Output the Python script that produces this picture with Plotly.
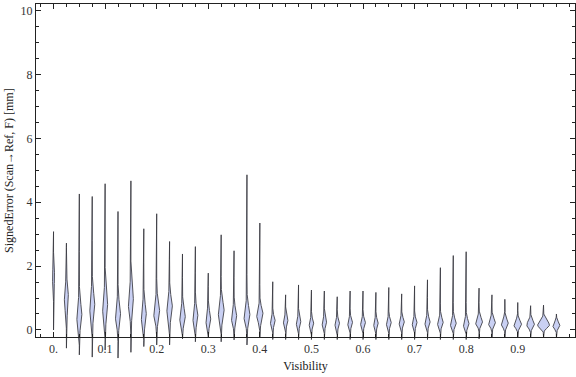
import numpy as np
import plotly.graph_objects as go

# ---- data ----
visibility = [0.000, 0.025, 0.050, 0.075, 0.100, 0.125, 0.150, 0.175, 0.200, 0.225,
              0.250, 0.275, 0.300, 0.325, 0.350, 0.375, 0.400, 0.425, 0.450, 0.475,
              0.500, 0.525, 0.550, 0.575, 0.600, 0.625, 0.650, 0.675, 0.700, 0.725,
              0.750, 0.775, 0.800, 0.825, 0.850, 0.875, 0.900, 0.925, 0.950, 0.975]
err_max = [3.08, 2.72, 4.26, 4.18, 4.58, 3.71, 4.67, 3.17, 3.64, 2.77,
           2.38, 2.61, 1.78, 2.98, 2.48, 4.86, 3.35, 1.51, 1.10, 1.41,
           1.25, 1.22, 1.04, 1.22, 1.22, 1.18, 1.33, 1.13, 1.38, 1.57,
           1.95, 2.33, 2.45, 1.31, 1.10, 0.96, 0.86, 0.76, 0.78, 0.50]
err_min = [0.00, -0.57, -0.78, -0.85, -0.63, -0.88, -0.70, -0.52, -0.47, -0.47,
           -0.28, -0.37, -0.22, -0.37, -0.31, -0.47, -0.22, -0.30, -0.30, -0.30,
           -0.30, -0.30, -0.30, -0.30, -0.30, -0.30, -0.30, -0.30, -0.30, -0.30,
           -0.30, -0.30, -0.30, -0.28, -0.25, -0.25, -0.25, -0.25, -0.25, -0.25]
err_mode = [1.65, 0.94, 0.42, 0.73, 0.70, 0.42, 0.84, 0.42, 0.52, 0.68,
            0.38, 0.38, 0.30, 0.57, 0.38, 0.42, 0.47, 0.26, 0.26, 0.22,
            0.18, 0.20, 0.18, 0.20, 0.20, 0.18, 0.20, 0.22, 0.20, 0.22,
            0.20, 0.18, 0.16, 0.22, 0.20, 0.18, 0.15, 0.15, 0.15, 0.12]
spread_low = [0.22, 0.35, 0.28, 0.33, 0.33, 0.28, 0.35, 0.25, 0.25, 0.28,
              0.20, 0.20, 0.17, 0.25, 0.20, 0.22, 0.20, 0.12, 0.11, 0.11,
              0.10, 0.10, 0.10, 0.10, 0.10, 0.10, 0.10, 0.10, 0.10, 0.10,
              0.10, 0.10, 0.10, 0.10, 0.10, 0.10, 0.09, 0.09, 0.09, 0.08]
spread_high = [0.25, 0.40, 0.38, 0.40, 0.40, 0.38, 0.42, 0.35, 0.35, 0.32,
               0.28, 0.28, 0.25, 0.30, 0.26, 0.30, 0.22, 0.15, 0.14, 0.14,
               0.14, 0.14, 0.14, 0.14, 0.14, 0.14, 0.14, 0.14, 0.14, 0.15,
               0.16, 0.16, 0.16, 0.16, 0.15, 0.15, 0.14, 0.14, 0.14, 0.12]
peak_half_width = [0.0022, 0.0040, 0.0050, 0.0050, 0.0050, 0.0050, 0.0050, 0.0050, 0.0058, 0.0055,
                   0.0055, 0.0050, 0.0048, 0.0058, 0.0052, 0.0058, 0.0062, 0.0048, 0.0045, 0.0045,
                   0.0045, 0.0045, 0.0045, 0.0048, 0.0048, 0.0045, 0.0048, 0.0052, 0.0048, 0.0052,
                   0.0056, 0.0058, 0.0056, 0.0068, 0.0068, 0.0068, 0.0075, 0.0075, 0.0115, 0.0068]

x_tick_vals = [0.0, 0.1, 0.2, 0.3, 0.4, 0.5, 0.6, 0.7, 0.8, 0.9]
x_tick_text = ["0.", "0.1", "0.2", "0.3", "0.4", "0.5", "0.6", "0.7", "0.8", "0.9"]
y_tick_vals = [0, 2, 4, 6, 8, 10]
y_tick_text = ["0", "2", "4", "6", "8", "10"]

# ---- geometry ----
W, H = 576, 377
M_L, M_R, M_T, M_B = 36, 1, 4, 15
X_RANGE = [-0.034, 1.011]
Y_FRAME = [-0.23, 10.21]
frame_bottom_px = 337.3
plot_h = H - M_T - M_B
frame_h = frame_bottom_px - M_T
px_per_unit = frame_h / (Y_FRAME[1] - Y_FRAME[0])
y_data_lo = Y_FRAME[1] - plot_h / px_per_unit
frame_domain_lo = (H - M_B - frame_bottom_px) / plot_h

FILL = "#c9d0f3"
EDGE = "rgba(55,55,62,0.85)"
FONT = "Liberation Serif, Times New Roman, serif"

fig = go.Figure()
for xv, lo, hi, m, sl, sh, wd in zip(visibility, err_min, err_max, err_mode,
                                      spread_low, spread_high, peak_half_width):
    ys = np.linspace(lo, hi, 400)
    s = np.where(ys < m, sl, sh)
    w = wd * np.exp(-0.5 * ((ys - m) / s) ** 2)
    xs = np.concatenate([xv + w, (xv - w)[::-1], [xv + w[0]]])
    yy = np.concatenate([ys, ys[::-1], [ys[0]]])
    fig.add_trace(go.Scatter(x=xs, y=yy, mode="lines", fill="toself",
                             fillcolor=FILL, line=dict(color=EDGE, width=1),
                             hoverinfo="skip", showlegend=False))

# dummy trace to create the frame subplot
fig.add_trace(go.Scatter(x=[None], y=[None], xaxis="x2", yaxis="y2",
                         showlegend=False, hoverinfo="skip"))

minor_x = [round(-0.025 + 0.025 * k, 3) for k in range(42)]

fig.update_layout(
    width=W, height=H,
    margin=dict(l=M_L, r=M_R, t=M_T, b=M_B, autoexpand=False),
    paper_bgcolor="white", plot_bgcolor="rgba(0,0,0,0)",
    font=dict(family=FONT, size=12, color="#222"),
    xaxis=dict(range=X_RANGE, visible=False, domain=[0, 1], fixedrange=True,
               automargin=False),
    yaxis=dict(range=[y_data_lo, Y_FRAME[1]], visible=False, domain=[0, 1],
               fixedrange=True, automargin=False),
    xaxis2=dict(range=X_RANGE, anchor="y2", domain=[0, 1], automargin=False,
                fixedrange=True,
                showline=True, linecolor="#222", linewidth=1, mirror="ticks",
                ticks="inside", ticklen=5, tickcolor="#222", tickwidth=1,
                tickvals=x_tick_vals, ticktext=x_tick_text,
                tickfont=dict(family=FONT, size=12, color="#333"),
                minor=dict(tickvals=minor_x, ticks="inside", ticklen=3,
                           tickcolor="#222", tickwidth=1, showgrid=False),
                showgrid=False, zeroline=False,
                title=dict(text="Visibility", standoff=6,
                           font=dict(family=FONT, size=12, color="#222"))),
    yaxis2=dict(range=Y_FRAME, anchor="x2", domain=[frame_domain_lo, 1],
                automargin=False, fixedrange=True,
                showline=True, linecolor="#222", linewidth=1, mirror="ticks",
                ticks="inside", ticklen=5, tickcolor="#222", tickwidth=1,
                tickvals=y_tick_vals, ticktext=y_tick_text,
                tickfont=dict(family=FONT, size=12, color="#333"),
                minor=dict(dtick=0.5, tick0=0, ticks="inside", ticklen=3,
                           tickcolor="#222", tickwidth=1, showgrid=False),
                showgrid=False, zeroline=False,
                title=dict(text="SignedError (Scan\u2192Ref, F) [mm]", standoff=4,
                           font=dict(family=FONT, size=12, color="#222"))),
)

fig.write_html("out.html", config={"displayModeBar": False, "staticPlot": True},
               post_script="document.body.style.margin='0';document.body.style.padding='0';")
